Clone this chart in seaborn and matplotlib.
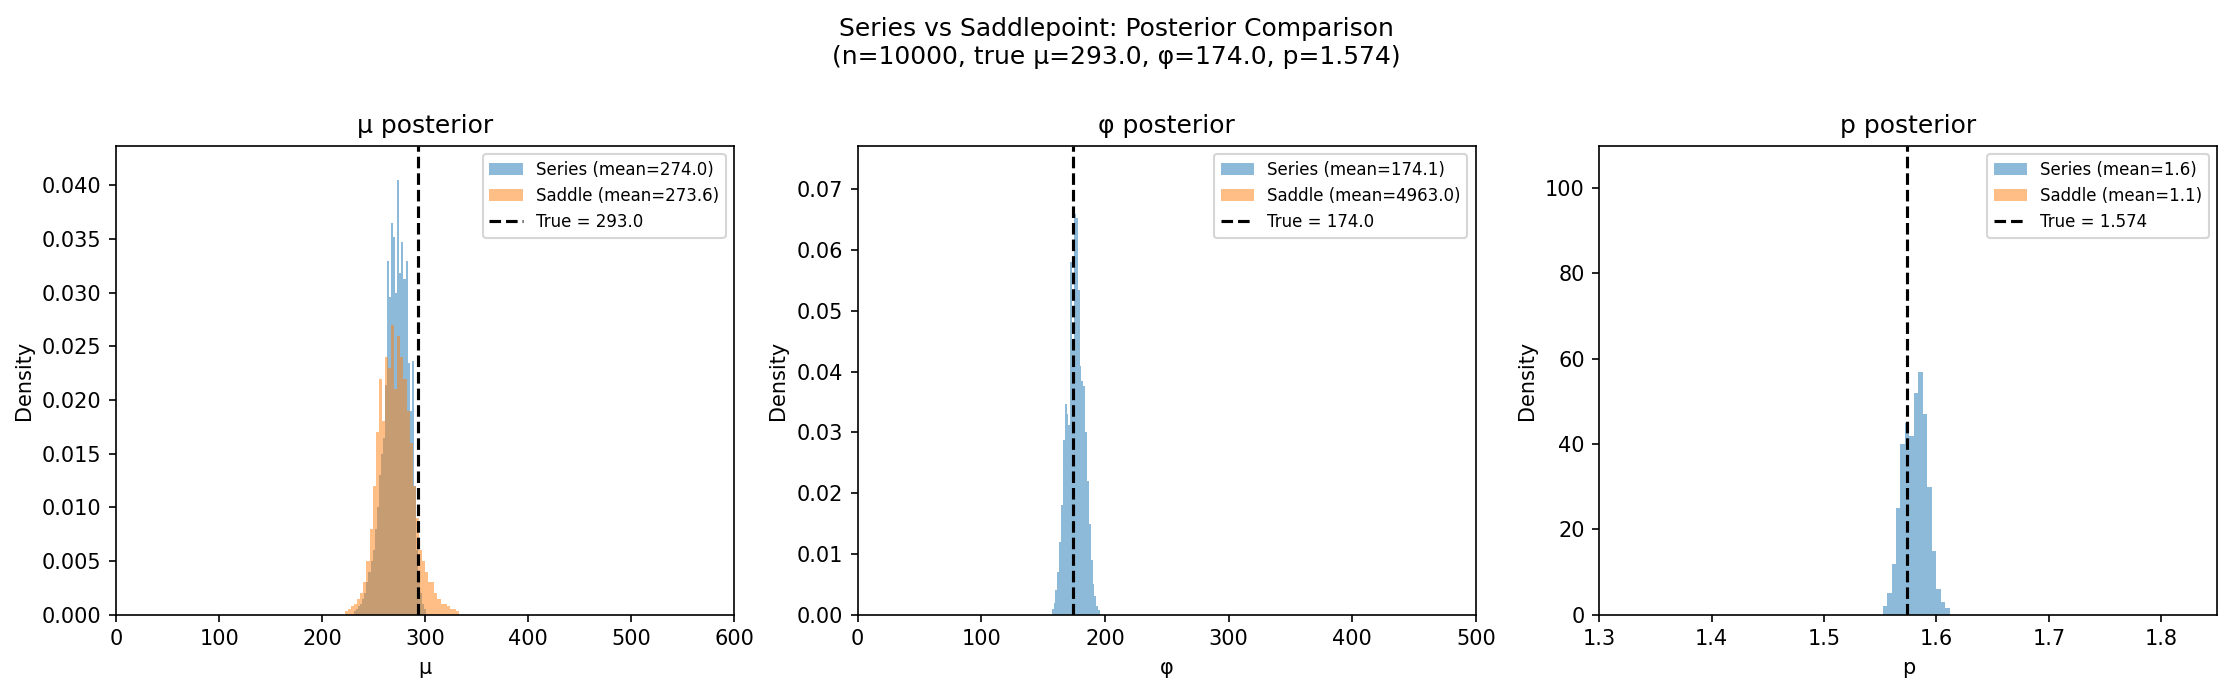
import numpy as np
import pandas as pd
import matplotlib
matplotlib.use("Agg")
import matplotlib.pyplot as plt
import seaborn as sns

sns.reset_orig()
plt.rcParams['font.family'] = ['DejaVu Sans']

# ---- mu posterior ----
mu_series_edges = list(range(231, 303, 2))
mu_series_dens = [0.0003, 0.0005, 0.0008, 0.001, 0.0015, 0.002, 0.003, 0.004, 0.005, 0.006,
                  0.008, 0.010, 0.013, 0.015, 0.0165,
                  0.0214, 0.0329, 0.0296, 0.0365, 0.0352, 0.030, 0.0405, 0.0318, 0.0347,
                  0.0313, 0.0329, 0.0234, 0.019, 0.0236,
                  0.012, 0.006, 0.003, 0.002, 0.001, 0.0005]
mu_saddle_edges = list(range(222, 336, 3))
mu_saddle_dens = [0.0003, 0.0005, 0.0008, 0.001, 0.0015, 0.002, 0.003, 0.005, 0.008, 0.012,
                  0.017, 0.022, 0.018, 0.024, 0.023, 0.027, 0.021, 0.026, 0.024, 0.022,
                  0.019, 0.016, 0.012, 0.009, 0.006, 0.005, 0.004, 0.003, 0.003, 0.002,
                  0.0015, 0.001, 0.001, 0.0008, 0.0005, 0.0005, 0.0003]

# ---- phi posterior ----
phi_series_edges = list(np.arange(157.0, 197.0, 1.5))
phi_series_dens = [0.001, 0.002, 0.004, 0.007, 0.012, 0.018,
                   0.0287, 0.0347, 0.0330, 0.0312, 0.058, 0.0445, 0.066, 0.0653,
                   0.0535, 0.041, 0.0385, 0.0377,
                   0.030, 0.022, 0.015, 0.009, 0.005, 0.003, 0.0015, 0.0008]
phi_saddle_edges = list(range(1000, 10000, 500))
phi_saddle_dens = [0.00005, 0.00008, 0.0001, 0.00012, 0.00014, 0.00015, 0.00015, 0.00014,
                   0.00013, 0.00012, 0.0001, 0.00009, 0.00008, 0.00006, 0.00005, 0.00004,
                   0.00003]

# ---- p posterior ----
p_series_edges = list(np.round(np.arange(1.552, 1.6141, 0.004), 3))
p_series_dens = [2, 5, 12, 25, 40, 45, 42, 52, 57, 47, 30, 15, 6, 3, 1.5]
p_saddle_edges = list(np.round(np.arange(0.9, 1.32, 0.02), 2))
p_saddle_dens = [1, 2, 3, 4, 5, 6, 7, 7, 6, 5, 4, 3, 2, 2, 1, 1, 0.5, 0.3, 0.2, 0.1]

panels = [
    dict(title="μ posterior", xlabel="μ", se=mu_series_edges, sd=mu_series_dens,
         ae=mu_saddle_edges, ad=mu_saddle_dens, smean="274.0", amean="273.6",
         true=293.0, tlabel="True = 293.0", xlim=(0, 600), ylim=(0, 0.0437)),
    dict(title="φ posterior", xlabel="φ", se=phi_series_edges, sd=phi_series_dens,
         ae=phi_saddle_edges, ad=phi_saddle_dens, smean="174.1", amean="4963.0",
         true=174.0, tlabel="True = 174.0", xlim=(0, 500), ylim=(0, 0.0772)),
    dict(title="p posterior", xlabel="p", se=p_series_edges, sd=p_series_dens,
         ae=p_saddle_edges, ad=p_saddle_dens, smean="1.6", amean="1.1",
         true=1.574, tlabel="True = 1.574", xlim=(1.3, 1.85), ylim=(0, 110)),
]


def hist_frame(edges, dens):
    e = np.asarray(edges, dtype=float)
    n = min(len(e) - 1, len(dens))
    e = e[:n + 1]
    return pd.DataFrame({"x": (e[:-1] + e[1:]) / 2, "w": np.asarray(dens[:n], dtype=float)}), list(e)


fig, axes = plt.subplots(1, 3, figsize=(2233 / 150, 693 / 150), dpi=150)
fig.subplots_adjust(left=0.052, right=0.993, bottom=0.113, top=0.79, wspace=0.2)

for ax, pn in zip(axes, panels):
    sdf, se = hist_frame(pn["se"], pn["sd"])
    adf, ae = hist_frame(pn["ae"], pn["ad"])
    sns.histplot(data=sdf, x="x", weights="w", bins=se, stat="count", ax=ax,
                 color="tab:blue", alpha=0.5, linewidth=0,
                 label=f"Series (mean={pn['smean']})")
    sns.histplot(data=adf, x="x", weights="w", bins=ae, stat="count", ax=ax,
                 color="tab:orange", alpha=0.5, linewidth=0,
                 label=f"Saddle (mean={pn['amean']})")
    ax.axvline(pn["true"], color="black", linestyle="--", linewidth=1.5, label=pn["tlabel"])
    ax.set_xlim(*pn["xlim"])
    ax.set_ylim(*pn["ylim"])
    ax.set_title(pn["title"], fontsize=12)
    ax.set_xlabel(pn["xlabel"])
    ax.set_ylabel("Density")
    handles, labels = ax.get_legend_handles_labels()
    order = [labels.index(l) for l in labels if l.startswith("Series")] + \
            [labels.index(l) for l in labels if l.startswith("Saddle")] + \
            [labels.index(l) for l in labels if l.startswith("True")]
    ax.legend([handles[i] for i in order], [labels[i] for i in order],
              loc="upper right", fontsize=8)

fig.suptitle("Series vs Saddlepoint: Posterior Comparison\n(n=10000, true μ=293.0, φ=174.0, p=1.574)",
             fontsize=12, y=0.975)
fig.savefig("out.png", dpi=150)
